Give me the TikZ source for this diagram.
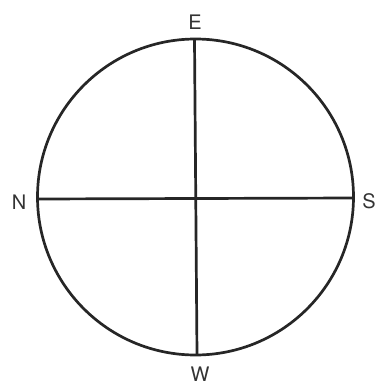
\documentclass[tikz,border=0pt]{standalone}
\usepackage{fontspec}
\setmainfont{TeX Gyre Heros}
\begin{document}
\begin{tikzpicture}[x=1pt,y=-1pt,
  ln/.style={line width=2.7pt,draw=black!85},
  lbl/.style={font=\fontsize{20}{22}\selectfont,text=black!80,inner sep=0pt}]
\useasboundingbox (0,0) rectangle (377,386);
\node[circle,ln,minimum size=316pt,inner sep=0pt] (c) at (195.5,197) {};
\coordinate (t) at (194.5,40);
\coordinate (b) at (197,354);
\coordinate (l) at (37,199);
\coordinate (r) at (354,198);
\draw[ln] (t) -- (b);
\draw[ln] (l) -- (r);
\node[lbl] (E) at (195,22) {E};
\node[lbl] (N) at (19,202) {N};
\node[lbl] (S) at (369,201) {S};
\node[lbl] (W) at (200,374) {W};
\end{tikzpicture}
\end{document}
